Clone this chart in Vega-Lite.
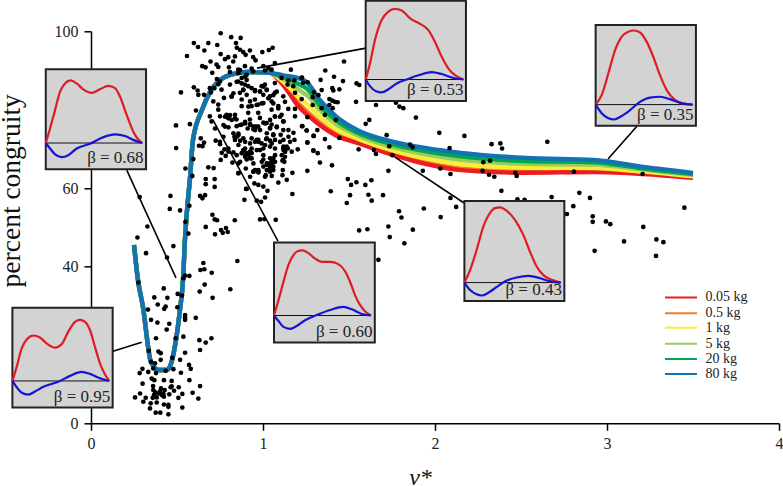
{"$schema":"https://vega.github.io/schema/vega-lite/v6.json","width":688,"height":392,"autosize":"none","padding":{"left":91,"top":31.3,"right":4,"bottom":62.7},"background":"white",
"config":{"view":{"stroke":null},"text":{"font":"Liberation Serif"}},
"datasets":{
"curves":[
{"x":0.25,"kg0_05":45.5,"kg0_5":45.5,"kg1":45.5,"kg5":45.5,"kg20":45.5,"kg80":45.5},
{"x":0.273,"kg0_05":36.6,"kg0_5":36.6,"kg1":36.6,"kg5":36.6,"kg20":36.6,"kg80":36.6},
{"x":0.302,"kg0_05":29.7,"kg0_5":29.7,"kg1":29.7,"kg5":29.7,"kg20":29.7,"kg80":29.7},
{"x":0.349,"kg0_05":15.6,"kg0_5":15.6,"kg1":15.6,"kg5":15.6,"kg20":15.6,"kg80":15.6},
{"x":0.395,"kg0_05":13.6,"kg0_5":13.6,"kg1":13.6,"kg5":13.6,"kg20":13.6,"kg80":13.6},
{"x":0.442,"kg0_05":13.6,"kg0_5":13.6,"kg1":13.6,"kg5":13.6,"kg20":13.6,"kg80":13.6},
{"x":0.494,"kg0_05":21.2,"kg0_5":21.2,"kg1":21.2,"kg5":21.2,"kg20":21.2,"kg80":21.2},
{"x":0.517,"kg0_05":28.9,"kg0_5":28.9,"kg1":28.9,"kg5":28.9,"kg20":28.9,"kg80":28.9},
{"x":0.535,"kg0_05":36.6,"kg0_5":36.6,"kg1":36.6,"kg5":36.6,"kg20":36.6,"kg80":36.6},
{"x":0.547,"kg0_05":47.5,"kg0_5":47.5,"kg1":47.5,"kg5":47.5,"kg20":47.5,"kg80":47.5},
{"x":0.576,"kg0_05":62.8,"kg0_5":62.8,"kg1":62.8,"kg5":62.8,"kg20":62.8,"kg80":62.8},
{"x":0.593,"kg0_05":72.3,"kg0_5":72.3,"kg1":72.3,"kg5":72.3,"kg20":72.3,"kg80":72.3},
{"x":0.645,"kg0_05":79.9,"kg0_5":79.9,"kg1":79.9,"kg5":79.9,"kg20":79.9,"kg80":79.9},
{"x":0.692,"kg0_05":84.5,"kg0_5":84.5,"kg1":84.5,"kg5":84.5,"kg20":84.5,"kg80":84.5},
{"x":0.75,"kg0_05":87.6,"kg0_5":87.6,"kg1":87.6,"kg5":87.6,"kg20":87.6,"kg80":87.6},
{"x":0.808,"kg0_05":88.9,"kg0_5":88.9,"kg1":88.9,"kg5":88.9,"kg20":88.9,"kg80":88.9},
{"x":0.907,"kg0_05":89.6,"kg0_5":89.6,"kg1":89.6,"kg5":89.6,"kg20":89.6,"kg80":89.6},
{"x":1.04,"kg0_05":89.4,"kg0_5":89.4,"kg1":89.4,"kg5":89.4,"kg20":89.4,"kg80":89.4},
{"x":1.08,"kg0_05":88.1,"kg0_5":88.2,"kg1":88.4,"kg5":88.7,"kg20":88.9,"kg80":89.1},
{"x":1.14,"kg0_05":85.0,"kg0_5":85.4,"kg1":86.2,"kg5":87.2,"kg20":87.9,"kg80":88.6},
{"x":1.2,"kg0_05":81.2,"kg0_5":81.9,"kg1":83.5,"kg5":85.3,"kg20":86.7,"kg80":88.1},
{"x":1.26,"kg0_05":78.6,"kg0_5":79.4,"kg1":81.3,"kg5":83.5,"kg20":85.2,"kg80":86.8},
{"x":1.33,"kg0_05":76.1,"kg0_5":76.7,"kg1":78.2,"kg5":79.9,"kg20":81.2,"kg80":82.5},
{"x":1.43,"kg0_05":73.3,"kg0_5":73.8,"kg1":74.9,"kg5":76.2,"kg20":77.1,"kg80":78.1},
{"x":1.55,"kg0_05":71.5,"kg0_5":71.8,"kg1":72.6,"kg5":73.5,"kg20":74.1,"kg80":74.8},
{"x":1.76,"kg0_05":68.4,"kg0_5":68.7,"kg1":69.5,"kg5":70.4,"kg20":71.1,"kg80":71.8},
{"x":1.95,"kg0_05":66.1,"kg0_5":66.5,"kg1":67.5,"kg5":68.6,"kg20":69.4,"kg80":70.2},
{"x":2.15,"kg0_05":64.6,"kg0_5":65.0,"kg1":66.1,"kg5":67.2,"kg20":68.1,"kg80":69.0},
{"x":2.53,"kg0_05":63.9,"kg0_5":64.3,"kg1":65.2,"kg5":66.2,"kg20":66.9,"kg80":67.7},
{"x":2.92,"kg0_05":64.1,"kg0_5":64.4,"kg1":65.1,"kg5":66.0,"kg20":66.6,"kg80":67.2},
{"x":3.21,"kg0_05":63.6,"kg0_5":63.8,"kg1":64.2,"kg5":64.7,"kg20":65.0,"kg80":65.4},
{"x":3.5,"kg0_05":62.6,"kg0_5":62.7,"kg1":63.0,"kg5":63.4,"kg20":63.6,"kg80":63.9}
],
"dots":[
{"x":0.275,"y":35.9},{"x":0.423,"y":34.4},{"x":0.661,"y":35.4},{"x":0.632,"y":33.6},{"x":0.81,"y":34.2},{"x":0.368,"y":32.1},{"x":0.444,"y":32},{"x":0.504,"y":33},{"x":0.529,"y":32.6},{"x":0.707,"y":32},{"x":0.388,"y":30.3},{"x":0.502,"y":29.6},{"x":0.434,"y":29.8},{"x":0.426,"y":29.2},{"x":0.331,"y":29},{"x":0.547,"y":27.6},{"x":0.547,"y":27},{"x":0.547,"y":26.4},{"x":0.609,"y":26.9},{"x":0.349,"y":26.4},{"x":0.386,"y":25.7},{"x":0.455,"y":25.4},{"x":0.44,"y":23.9},{"x":0.537,"y":22.1},{"x":0.378,"y":21.7},{"x":0.492,"y":21.7},{"x":0.63,"y":21.2},{"x":0.667,"y":20.6},{"x":0.7,"y":21.7},{"x":0.634,"y":18.7},{"x":0.337,"y":18.5},{"x":0.392,"y":18.3},{"x":0.405,"y":17.9},{"x":0.547,"y":18},{"x":0.473,"y":16.7},{"x":0.518,"y":16.2},{"x":0.405,"y":16.2},{"x":0.349,"y":15.7},{"x":0.372,"y":15.3},{"x":0.57,"y":14.9},{"x":0.58,"y":13.9},{"x":0.299,"y":13.9},{"x":0.362,"y":14},{"x":0.283,"y":12.8},{"x":0.333,"y":13.1},{"x":0.378,"y":12.8},{"x":0.479,"y":13.8},{"x":0.523,"y":12.9},{"x":0.434,"y":13.4},{"x":0.353,"y":11.4},{"x":0.368,"y":11},{"x":0.424,"y":11},{"x":0.469,"y":10.8},{"x":0.572,"y":11},{"x":0.3,"y":10.1},{"x":0.469,"y":9.4},{"x":0.634,"y":9.5},{"x":0.361,"y":9.5},{"x":0.407,"y":8.9},{"x":0.362,"y":8.5},{"x":0.428,"y":8.5},{"x":0.463,"y":9.2},{"x":0.51,"y":9.2},{"x":0.483,"y":8.3},{"x":0.374,"y":7.9},{"x":0.421,"y":7.6},{"x":0.392,"y":7.6},{"x":0.591,"y":7.8},{"x":0.455,"y":7.4},{"x":0.531,"y":7.5},{"x":0.256,"y":6.6},{"x":0.285,"y":7.6},{"x":0.318,"y":6.5},{"x":0.359,"y":6.5},{"x":0.382,"y":6.6},{"x":0.424,"y":6.8},{"x":0.508,"y":6.5},{"x":0.624,"y":6.3},{"x":0.304,"y":5.5},{"x":0.347,"y":5.1},{"x":0.382,"y":5.3},{"x":0.424,"y":4.8},{"x":0.45,"y":4.7},{"x":0.343,"y":3.8},{"x":0.45,"y":4.2},{"x":0.531,"y":4},{"x":0.376,"y":2.7},{"x":0.403,"y":2.7},{"x":0.45,"y":2.3},{"x":0.401,"y":8.1},{"x":0.411,"y":7.2},{"x":0.366,"y":7.2},
{"x":0.495,"y":70.2},{"x":0.595,"y":67.4},{"x":0.549,"y":65},{"x":0.589,"y":63.1},{"x":0.682,"y":65.3},{"x":0.713,"y":65.1},{"x":0.667,"y":62.3},{"x":0.719,"y":62.3},{"x":0.667,"y":61},{"x":0.719,"y":60.3},{"x":0.462,"y":58},{"x":0.634,"y":58},{"x":0.663,"y":58.2},{"x":0.648,"y":57.4},{"x":0.458,"y":54.7},{"x":0.518,"y":54.3},{"x":0.572,"y":55.5},{"x":0.549,"y":51.4},{"x":0.706,"y":53.2},{"x":0.719,"y":52},{"x":0.733,"y":51.8},{"x":0.836,"y":51.8},{"x":0.328,"y":50.2},{"x":0.667,"y":50.1},{"x":0.27,"y":47.4},{"x":0.756,"y":49.3},{"x":0.785,"y":49.8},{"x":0.766,"y":48.6},{"x":0.795,"y":48.8},{"x":0.721,"y":48.2},{"x":0.566,"y":48.4},{"x":0.479,"y":45.2},{"x":0.32,"y":43.4},{"x":0.442,"y":42.3},{"x":0.851,"y":41.4},{"x":0.653,"y":40.9},{"x":0.636,"y":39.1},{"x":0.659,"y":39.3},{"x":0.702,"y":38.4},{"x":0.572,"y":37.6},{"x":0.547,"y":37.7},{"x":0.537,"y":37},{"x":0.283,"y":57.7},{"x":0.892,"y":57},{"x":0.901,"y":59.8},{"x":0.857,"y":63.8},
{"x":0.754,"y":99.5},{"x":0.815,"y":98.5},{"x":0.87,"y":98.3},{"x":0.843,"y":97},{"x":0.598,"y":97},{"x":0.622,"y":96},{"x":0.682,"y":97},{"x":0.734,"y":96.5},{"x":0.659,"y":95.1},{"x":0.558,"y":93.7},{"x":0.754,"y":94.2},{"x":0.848,"y":95.8},{"x":0.866,"y":95.3},{"x":0.885,"y":94.7},{"x":0.899,"y":94},{"x":0.924,"y":95.1},{"x":0.996,"y":94.7},{"x":1.034,"y":95.2},{"x":1.056,"y":95.8},{"x":0.837,"y":93.6},{"x":0.798,"y":93.4},{"x":0.779,"y":92.9},{"x":0.943,"y":93.4},{"x":0.957,"y":92.6},{"x":0.695,"y":92.3},{"x":0.827,"y":92.3},{"x":0.73,"y":91.5},{"x":0.74,"y":90.9},{"x":0.647,"y":91.1},{"x":0.666,"y":90.8},{"x":0.802,"y":90.8},{"x":0.895,"y":91.1},{"x":0.934,"y":90.5},{"x":1.002,"y":91.1},{"x":1.069,"y":91.9},{"x":1.031,"y":90.6},{"x":1.05,"y":90.2},{"x":1.162,"y":90.2},{"x":0.705,"y":89.4},{"x":0.808,"y":89.6},{"x":0.856,"y":90.2},{"x":0.943,"y":89.8},{"x":1.011,"y":90},{"x":0.732,"y":87.8},{"x":0.74,"y":86.5},{"x":0.598,"y":85.7},{"x":0.62,"y":84.9},{"x":0.624,"y":83.8},{"x":0.523,"y":84.4},{"x":0.657,"y":83.8},{"x":0.691,"y":85.5},{"x":0.697,"y":84.4},{"x":0.717,"y":85.5},{"x":0.75,"y":87.2},{"x":0.759,"y":85.1},{"x":0.773,"y":83},{"x":0.808,"y":86.4},{"x":0.817,"y":83.4},{"x":0.856,"y":87.2},{"x":0.876,"y":88.1},{"x":0.905,"y":88.9},{"x":0.895,"y":86.4},{"x":0.885,"y":85.1},{"x":0.866,"y":84.3},{"x":0.876,"y":82.6},{"x":0.914,"y":86},{"x":0.905,"y":83.8},{"x":0.934,"y":85.5},{"x":0.953,"y":84.7},{"x":0.953,"y":82.6},{"x":0.992,"y":86},{"x":1.011,"y":86.4},{"x":0.982,"y":84.7},{"x":1.002,"y":83.8},{"x":1.021,"y":85.1},{"x":1.04,"y":83.4},{"x":1.069,"y":84.3},{"x":1.069,"y":86.8},{"x":1.108,"y":88.1},{"x":1.147,"y":87.5},{"x":1.182,"y":87.5},{"x":1.224,"y":88.1},{"x":1.143,"y":86.4},{"x":1.176,"y":86},{"x":1.186,"y":84.3},{"x":1.118,"y":83.4},{"x":1.05,"y":82.1},{"x":0.972,"y":81.3},{"x":1.002,"y":81.7},{"x":0.934,"y":80.9},{"x":0.711,"y":82.1},{"x":0.74,"y":81.3},{"x":0.61,"y":79.8},{"x":0.691,"y":78.3},{"x":0.74,"y":80},{"x":0.788,"y":78.7},{"x":0.837,"y":78.7},{"x":0.876,"y":80.9},{"x":0.914,"y":79.2},{"x":0.972,"y":79.2},{"x":1.05,"y":80},{"x":1.089,"y":80.9},{"x":1.147,"y":80.2},{"x":1.186,"y":80.2},{"x":1.108,"y":78.7},{"x":1.069,"y":78.3},{"x":1.021,"y":76.6},{"x":0.982,"y":77.9},{"x":0.924,"y":77.5},{"x":0.846,"y":77.5},{"x":0.798,"y":77.9},{"x":0.75,"y":78.3},{"x":0.701,"y":77},{"x":0.575,"y":76.3},{"x":0.494,"y":76},{"x":1.186,"y":78.3},{"x":0.779,"y":75.7},{"x":0.876,"y":76.2},{"x":0.953,"y":75.7},{"x":1.05,"y":76.2},{"x":1.118,"y":77},
{"x":0.721,"y":75.2},{"x":0.77,"y":76.1},{"x":0.799,"y":75.5},{"x":0.847,"y":75.8},{"x":0.896,"y":76.5},{"x":0.925,"y":76.1},{"x":0.964,"y":75.7},{"x":1.002,"y":76.7},{"x":1.041,"y":75.2},{"x":1.08,"y":75.5},{"x":1.119,"y":77},{"x":1.148,"y":74.8},{"x":1.177,"y":74.1},{"x":1.229,"y":75.8},{"x":1.254,"y":74.7},{"x":1.293,"y":73.3},{"x":1.258,"y":71.6},{"x":1.293,"y":69.5},{"x":1.258,"y":64.4},{"x":1.171,"y":63.9},{"x":1.171,"y":58.5},{"x":1.202,"y":69.9},{"x":1.183,"y":72.3},{"x":1.148,"y":73.1},{"x":1.103,"y":73.6},{"x":1.06,"y":73.5},{"x":1.018,"y":72.5},{"x":0.973,"y":71.8},{"x":0.934,"y":72.7},{"x":0.896,"y":71.8},{"x":0.857,"y":73.5},{"x":0.834,"y":73.1},{"x":0.725,"y":72.1},{"x":0.75,"y":71.2},{"x":0.638,"y":72.7},{"x":0.657,"y":71.6},{"x":0.628,"y":70.8},{"x":0.648,"y":70.7},{"x":0.76,"y":69},{"x":0.754,"y":67.2},{"x":0.799,"y":70.1},{"x":0.828,"y":69.1},{"x":0.867,"y":66.7},{"x":0.822,"y":66.5},{"x":0.857,"y":63.8},{"x":0.9,"y":65},{"x":0.886,"y":69.5},{"x":0.915,"y":68.4},{"x":0.905,"y":67.3},{"x":0.944,"y":66.3},{"x":0.944,"y":64.2},{"x":0.925,"y":62.9},{"x":0.954,"y":64.6},{"x":0.973,"y":64},{"x":1.002,"y":67.3},{"x":1.022,"y":65.9},{"x":1.041,"y":67.6},{"x":1.07,"y":68.4},{"x":1.012,"y":71},{"x":1.002,"y":70.1},{"x":1.051,"y":71.4},{"x":1.119,"y":70.6},{"x":1.128,"y":69.3},{"x":1.167,"y":69.3},{"x":1.113,"y":67},{"x":1.051,"y":66.3},{"x":1.041,"y":64.6},{"x":1.016,"y":63.3},{"x":1.051,"y":63.1},{"x":1.115,"y":64.6},{"x":1.113,"y":63.3},{"x":1.089,"y":61.4},{"x":1.138,"y":62.1},{"x":0.95,"y":61.2},{"x":0.973,"y":60.8},{"x":1.002,"y":60.4},{"x":1.026,"y":59.3},{"x":1.012,"y":57.6},{"x":0.905,"y":59.8},{"x":0.964,"y":56.8},{"x":0.989,"y":56.5},{"x":0.983,"y":52},{"x":1.008,"y":52.1},{"x":1.074,"y":51.9},
{"x":1.041,"y":66.3},{"x":1.06,"y":65.5},{"x":1.041,"y":65.5},{"x":1.06,"y":64.6},{"x":1.022,"y":64.6},{"x":1.07,"y":66.7},{"x":1.119,"y":69.7},{"x":1.128,"y":68},{"x":1.124,"y":66.7},{"x":1.144,"y":70.1},{"x":0.876,"y":68.9},{"x":0.896,"y":68},{"x":0.847,"y":68.4},{"x":0.925,"y":67.6},{"x":0.934,"y":68.9},{"x":0.983,"y":69.7},{"x":0.993,"y":66.7},{"x":0.973,"y":64.6},{"x":0.857,"y":66.3},{"x":0.799,"y":69.3},{"x":0.776,"y":69.9},{"x":0.783,"y":68.2},{"x":0.867,"y":76.1},{"x":0.911,"y":75.2},{"x":0.944,"y":75},{"x":0.983,"y":74.8},{"x":1.022,"y":74},{"x":0.847,"y":73.1},{"x":0.828,"y":74},{"x":0.867,"y":72.1},{"x":0.925,"y":71.4},{"x":0.954,"y":71.8},{"x":0.964,"y":72.3},{"x":1.041,"y":72.1},{"x":1.07,"y":72.3},{"x":1.099,"y":71.8},{"x":0.857,"y":71},{"x":0.896,"y":70.1},{"x":0.934,"y":70.1},{"x":0.964,"y":69.7},{"x":1.002,"y":68.4},{"x":1.07,"y":70.1},{"x":1.119,"y":72.3},{"x":1.157,"y":71.8},
{"x":1.041,"y":65.6},{"x":1.051,"y":66.7},{"x":1.041,"y":64.2},{"x":1.022,"y":66.3},{"x":1.06,"y":67.6},{"x":1.002,"y":65.5},{"x":0.973,"y":64.2},{"x":0.944,"y":64.2},{"x":1.012,"y":62.9},{"x":1.118,"y":70.1},{"x":1.128,"y":69.3},{"x":1.109,"y":68.4},{"x":1.138,"y":70.6},{"x":1.118,"y":67.2},{"x":0.905,"y":68.9},{"x":0.896,"y":68.2},{"x":0.925,"y":69.3},{"x":0.934,"y":67.6},{"x":0.886,"y":69.7},{"x":0.954,"y":74.8},{"x":0.973,"y":75.7},{"x":0.944,"y":75.7},{"x":0.925,"y":76.3},{"x":0.896,"y":76.9},{"x":0.808,"y":78.6},{"x":0.837,"y":77.8},{"x":0.799,"y":77.8},{"x":0.779,"y":78.2},{"x":0.818,"y":77.4},{"x":0.886,"y":85},{"x":0.876,"y":86.7},{"x":0.905,"y":87.6},{"x":0.896,"y":88.4},{"x":0.857,"y":89.3},{"x":0.867,"y":90.1},{"x":0.847,"y":87.1},{"x":0.828,"y":84.2},{"x":0.818,"y":83.3},{"x":1.002,"y":85.9},{"x":1.022,"y":85},{"x":0.983,"y":84.6},{"x":0.954,"y":85},{"x":1.08,"y":84.6},{"x":1.06,"y":83.7},{"x":1.031,"y":82.9},{"x":0.992,"y":81.6},{"x":0.963,"y":81.2},{"x":0.925,"y":82.1},{"x":0.915,"y":80.8},{"x":1.06,"y":81.6},{"x":1.089,"y":80.3},{"x":1.128,"y":82},{"x":1.099,"y":78.2},{"x":1.07,"y":78.2},{"x":1.041,"y":77.4},{"x":1.012,"y":76.5},{"x":1.041,"y":75.4},{"x":1.08,"y":75.7},{"x":1.118,"y":74.8},{"x":1.06,"y":73.7},{"x":1.022,"y":72.7},{"x":0.992,"y":71.4},{"x":1.041,"y":70.6},{"x":0.973,"y":72.3},{"x":0.886,"y":72.7},{"x":0.857,"y":73.9},{"x":0.837,"y":72.3},{"x":0.77,"y":73.1},{"x":0.75,"y":71.8},
{"x":1.471,"y":92.3},{"x":1.362,"y":90},{"x":1.413,"y":88.4},{"x":1.335,"y":87.6},{"x":1.465,"y":87.3},{"x":1.227,"y":88.2},{"x":1.234,"y":86.9},{"x":1.26,"y":87},{"x":1.544,"y":86.7},{"x":1.56,"y":86.3},{"x":1.403,"y":85.5},{"x":1.409,"y":84.9},{"x":1.341,"y":85},{"x":1.444,"y":85.2},{"x":1.296,"y":84.4},{"x":1.322,"y":83.7},{"x":1.289,"y":83.2},{"x":1.386,"y":82.7},{"x":1.403,"y":82.3},{"x":1.418,"y":82},{"x":1.434,"y":81.9},{"x":1.541,"y":82},{"x":1.225,"y":82.7},{"x":1.289,"y":81.2},{"x":1.386,"y":81.2},{"x":1.405,"y":80.4},{"x":1.341,"y":80.4},{"x":1.36,"y":78.7},{"x":1.258,"y":78.1},{"x":1.424,"y":77.4},{"x":1.618,"y":77.4},{"x":1.597,"y":76.4},{"x":1.889,"y":78},{"x":1.657,"y":81.2},{"x":1.773,"y":81.8},{"x":1.793,"y":80.8},{"x":1.816,"y":80.4},{"x":1.227,"y":75.8},{"x":1.254,"y":74.7},{"x":1.316,"y":74.8},{"x":1.296,"y":73.3},{"x":1.36,"y":72.5},{"x":1.444,"y":72.8},{"x":1.258,"y":71.7},{"x":1.386,"y":70.4},{"x":1.293,"y":69.6},{"x":1.318,"y":68.9},{"x":1.556,"y":69.9},{"x":1.645,"y":69.7},{"x":1.657,"y":68.7},{"x":1.734,"y":70.7},{"x":1.719,"y":73.5},{"x":1.855,"y":71.1},{"x":1.87,"y":70.4},{"x":1.752,"y":68.4},{"x":1.331,"y":66.5},{"x":1.401,"y":65.8},
{"x":1.394,"y":59.2},{"x":1.493,"y":62.3},{"x":1.512,"y":60.8},{"x":1.543,"y":61.5},{"x":1.595,"y":60.8},{"x":1.63,"y":62},{"x":1.506,"y":58.2},{"x":1.613,"y":58.3},{"x":1.698,"y":58.2},{"x":1.487,"y":56.2},{"x":1.632,"y":56.8},{"x":1.729,"y":64.4},{"x":1.929,"y":64.4},{"x":2.031,"y":65},{"x":2.09,"y":63.6},{"x":1.791,"y":54.1},{"x":1.805,"y":52.5},{"x":1.935,"y":54.8},{"x":2.033,"y":52.6},{"x":2.09,"y":57.5},{"x":2.123,"y":55.2},{"x":1.559,"y":49.2},{"x":1.607,"y":49.5},{"x":1.729,"y":50.2},{"x":1.737,"y":47.5},{"x":1.871,"y":49.4},{"x":1.822,"y":45.9},{"x":1.671,"y":41.7},
{"x":2.025,"y":74.1},{"x":2.171,"y":73.3},{"x":2.085,"y":70.2},{"x":2.329,"y":71.2},{"x":2.38,"y":71.4},{"x":2.39,"y":70.1},{"x":2.653,"y":71.8},{"x":2.281,"y":66.6},{"x":2.32,"y":67},{"x":2.277,"y":64.4},{"x":2.314,"y":63.4},{"x":2.345,"y":62.9},{"x":2.467,"y":63.9},{"x":2.475,"y":63.1},{"x":2.808,"y":64.2},{"x":3.207,"y":63.6},{"x":2.386,"y":59.3},{"x":2.479,"y":57.1},{"x":2.521,"y":57},{"x":2.678,"y":57.7},{"x":2.839,"y":58.8},{"x":2.901,"y":57.5},{"x":2.804,"y":55.4},{"x":2.767,"y":53.4},{"x":2.917,"y":52.8},{"x":2.917,"y":51.4},{"x":2.994,"y":51.5},{"x":3.019,"y":50.8},{"x":3.211,"y":50.1},{"x":3.45,"y":55},{"x":3.287,"y":46.9},{"x":3.328,"y":46.2},{"x":3.285,"y":42.7},{"x":3.099,"y":46.4},{"x":2.928,"y":44}
],
"leaders":[
{"x":0.128,"y":18.4,"x2":0.295,"y2":20.7},
{"x":0.208,"y":64.6,"x2":0.494,"y2":37.1},
{"x":0.709,"y":77.4,"x2":1.087,"y2":46.5},
{"x":0.965,"y":90.6,"x2":1.599,"y2":95.7},
{"x":1.767,"y":67.9,"x2":2.169,"y2":56.2},
{"x":3.006,"y":67.4,"x2":3.174,"y2":75.8}
],
"boxes":[
{"x":-0.263,"x2":0.32,"y":90.3,"y2":64.8},
{"x":-0.457,"x2":0.126,"y":29.5,"y2":4.0},
{"x":1.064,"x2":1.65,"y":46.1,"y2":20.6},
{"x":2.171,"x2":2.752,"y":56.7,"y2":31.2},
{"x":1.597,"x2":2.18,"y":107.8,"y2":82.2},
{"x":2.934,"x2":3.517,"y":101.6,"y2":75.9}
],
"baselines":[
{"x":-0.263,"x2":0.298,"y":71.5},
{"x":-0.457,"x2":0.106,"y":10.8},
{"x":1.064,"x2":1.628,"y":27.5},
{"x":2.171,"x2":2.731,"y":35.9},
{"x":1.597,"x2":2.165,"y":87.7},
{"x":2.934,"x2":3.498,"y":81.3}
],
"labels":[
{"x":0.306,"y":66.3,"label":"β = 0.68"},
{"x":0.112,"y":5.5,"label":"β = 0.95"},
{"x":1.636,"y":22.1,"label":"β = 0.60"},
{"x":2.738,"y":32.7,"label":"β = 0.43"},
{"x":2.166,"y":83.7,"label":"β = 0.53"},
{"x":3.503,"y":77.4,"label":"β = 0.35"}
],
"red":[
{"inset":"0.68","x":-0.263,"y":71.5},{"inset":"0.68","x":-0.238,"y":75.2},{"inset":"0.68","x":-0.209,"y":79.9},{"inset":"0.68","x":-0.18,"y":84.6},{"inset":"0.68","x":-0.151,"y":86.7},{"inset":"0.68","x":-0.118,"y":87.5},{"inset":"0.68","x":-0.083,"y":86.7},{"inset":"0.68","x":-0.045,"y":85.2},{"inset":"0.68","x":0.004,"y":84.3},{"inset":"0.68","x":0.052,"y":85.2},{"inset":"0.68","x":0.101,"y":86.1},{"inset":"0.68","x":0.14,"y":85.5},{"inset":"0.68","x":0.169,"y":83.3},{"inset":"0.68","x":0.208,"y":78.6},{"inset":"0.68","x":0.246,"y":74.4},{"inset":"0.68","x":0.275,"y":72.4},{"inset":"0.68","x":0.298,"y":71.5},
{"inset":"0.95","x":-0.457,"y":10.8},{"inset":"0.95","x":-0.432,"y":14.4},{"inset":"0.95","x":-0.403,"y":19.1},{"inset":"0.95","x":-0.374,"y":21.4},{"inset":"0.95","x":-0.335,"y":22.4},{"inset":"0.95","x":-0.297,"y":21.9},{"inset":"0.95","x":-0.258,"y":20.4},{"inset":"0.95","x":-0.209,"y":19.3},{"inset":"0.95","x":-0.17,"y":20.2},{"inset":"0.95","x":-0.132,"y":23.4},{"inset":"0.95","x":-0.093,"y":25.9},{"inset":"0.95","x":-0.064,"y":26.4},{"inset":"0.95","x":-0.035,"y":25.9},{"inset":"0.95","x":-0.006,"y":23.8},{"inset":"0.95","x":0.023,"y":19.5},{"inset":"0.95","x":0.052,"y":15.3},{"inset":"0.95","x":0.081,"y":12.5},{"inset":"0.95","x":0.106,"y":10.8},
{"inset":"0.60","x":1.064,"y":27.5},{"inset":"0.60","x":1.09,"y":31.4},{"inset":"0.60","x":1.119,"y":36.1},{"inset":"0.60","x":1.148,"y":40.4},{"inset":"0.60","x":1.177,"y":42.9},{"inset":"0.60","x":1.2,"y":43.9},{"inset":"0.60","x":1.229,"y":44.1},{"inset":"0.60","x":1.264,"y":43.4},{"inset":"0.60","x":1.303,"y":42},{"inset":"0.60","x":1.342,"y":41.2},{"inset":"0.60","x":1.39,"y":41.2},{"inset":"0.60","x":1.438,"y":40.6},{"inset":"0.60","x":1.477,"y":38.8},{"inset":"0.60","x":1.506,"y":36.1},{"inset":"0.60","x":1.535,"y":32.7},{"inset":"0.60","x":1.564,"y":30.2},{"inset":"0.60","x":1.593,"y":28.6},{"inset":"0.60","x":1.628,"y":27.5},
{"inset":"0.43","x":2.171,"y":35.9},{"inset":"0.43","x":2.204,"y":39.1},{"inset":"0.43","x":2.242,"y":44.2},{"inset":"0.43","x":2.281,"y":50.2},{"inset":"0.43","x":2.32,"y":53.7},{"inset":"0.43","x":2.349,"y":54.9},{"inset":"0.43","x":2.378,"y":55.1},{"inset":"0.43","x":2.417,"y":54.2},{"inset":"0.43","x":2.465,"y":51.9},{"inset":"0.43","x":2.514,"y":48},{"inset":"0.43","x":2.552,"y":43.8},{"inset":"0.43","x":2.591,"y":40},{"inset":"0.43","x":2.63,"y":37.8},{"inset":"0.43","x":2.678,"y":36.6},{"inset":"0.43","x":2.731,"y":35.9},
{"inset":"0.53","x":1.597,"y":87.7},{"inset":"0.53","x":1.622,"y":91.8},{"inset":"0.53","x":1.651,"y":97.8},{"inset":"0.53","x":1.69,"y":102.9},{"inset":"0.53","x":1.729,"y":105},{"inset":"0.53","x":1.767,"y":105.7},{"inset":"0.53","x":1.806,"y":105.3},{"inset":"0.53","x":1.855,"y":103.3},{"inset":"0.53","x":1.913,"y":101.9},{"inset":"0.53","x":1.961,"y":100.3},{"inset":"0.53","x":2,"y":97.3},{"inset":"0.53","x":2.039,"y":93.5},{"inset":"0.53","x":2.078,"y":90.5},{"inset":"0.53","x":2.116,"y":88.8},{"inset":"0.53","x":2.165,"y":87.7},
{"inset":"0.35","x":2.934,"y":81.3},{"inset":"0.35","x":2.969,"y":83.7},{"inset":"0.35","x":3.008,"y":89.3},{"inset":"0.35","x":3.047,"y":95.2},{"inset":"0.35","x":3.085,"y":98.6},{"inset":"0.35","x":3.124,"y":99.9},{"inset":"0.35","x":3.157,"y":100.2},{"inset":"0.35","x":3.192,"y":99.7},{"inset":"0.35","x":3.231,"y":97.3},{"inset":"0.35","x":3.269,"y":93.5},{"inset":"0.35","x":3.308,"y":88.8},{"inset":"0.35","x":3.347,"y":85},{"inset":"0.35","x":3.395,"y":82.5},{"inset":"0.35","x":3.444,"y":81.6},{"inset":"0.35","x":3.498,"y":81.3}
],
"blue":[
{"inset":"0.68","x":-0.263,"y":71.5},{"inset":"0.68","x":-0.238,"y":70.1},{"inset":"0.68","x":-0.209,"y":68.6},{"inset":"0.68","x":-0.17,"y":67.9},{"inset":"0.68","x":-0.132,"y":68.4},{"inset":"0.68","x":-0.083,"y":70.1},{"inset":"0.68","x":-0.006,"y":71.3},{"inset":"0.68","x":0.072,"y":73},{"inset":"0.68","x":0.14,"y":73.7},{"inset":"0.68","x":0.198,"y":73.3},{"inset":"0.68","x":0.246,"y":72.3},{"inset":"0.68","x":0.298,"y":71.5},
{"inset":"0.95","x":-0.457,"y":10.8},{"inset":"0.95","x":-0.432,"y":9.2},{"inset":"0.95","x":-0.403,"y":7.8},{"inset":"0.95","x":-0.364,"y":7.3},{"inset":"0.95","x":-0.326,"y":8.1},{"inset":"0.95","x":-0.277,"y":9.3},{"inset":"0.95","x":-0.19,"y":10.6},{"inset":"0.95","x":-0.122,"y":12.1},{"inset":"0.95","x":-0.054,"y":13.1},{"inset":"0.95","x":-0.006,"y":12.6},{"inset":"0.95","x":0.052,"y":11.5},{"inset":"0.95","x":0.106,"y":10.8},
{"inset":"0.60","x":1.064,"y":27.5},{"inset":"0.60","x":1.09,"y":26.1},{"inset":"0.60","x":1.119,"y":24.6},{"inset":"0.60","x":1.157,"y":24.1},{"inset":"0.60","x":1.196,"y":24.8},{"inset":"0.60","x":1.245,"y":26.3},{"inset":"0.60","x":1.312,"y":27.6},{"inset":"0.60","x":1.39,"y":28.9},{"inset":"0.60","x":1.467,"y":29.7},{"inset":"0.60","x":1.516,"y":29.1},{"inset":"0.60","x":1.574,"y":27.9},{"inset":"0.60","x":1.628,"y":27.5},
{"inset":"0.43","x":2.171,"y":35.9},{"inset":"0.43","x":2.204,"y":34},{"inset":"0.43","x":2.242,"y":32.9},{"inset":"0.43","x":2.271,"y":32.6},{"inset":"0.43","x":2.31,"y":33.3},{"inset":"0.43","x":2.359,"y":34.8},{"inset":"0.43","x":2.417,"y":36.4},{"inset":"0.43","x":2.475,"y":37.2},{"inset":"0.43","x":2.543,"y":37.6},{"inset":"0.43","x":2.611,"y":37},{"inset":"0.43","x":2.669,"y":36.2},{"inset":"0.43","x":2.731,"y":35.9},
{"inset":"0.53","x":1.597,"y":87.7},{"inset":"0.53","x":1.622,"y":86},{"inset":"0.53","x":1.657,"y":84.7},{"inset":"0.53","x":1.69,"y":84.4},{"inset":"0.53","x":1.729,"y":85.2},{"inset":"0.53","x":1.777,"y":86.7},{"inset":"0.53","x":1.835,"y":87.7},{"inset":"0.53","x":1.913,"y":88.9},{"inset":"0.53","x":1.981,"y":89.6},{"inset":"0.53","x":2.039,"y":89.1},{"inset":"0.53","x":2.107,"y":88.1},{"inset":"0.53","x":2.165,"y":87.7},
{"inset":"0.35","x":2.934,"y":81.3},{"inset":"0.35","x":2.969,"y":79.1},{"inset":"0.35","x":3.008,"y":77.8},{"inset":"0.35","x":3.041,"y":77.5},{"inset":"0.35","x":3.085,"y":78.4},{"inset":"0.35","x":3.134,"y":79.9},{"inset":"0.35","x":3.192,"y":82},{"inset":"0.35","x":3.25,"y":83.1},{"inset":"0.35","x":3.308,"y":83.3},{"inset":"0.35","x":3.366,"y":82.7},{"inset":"0.35","x":3.434,"y":81.6},{"inset":"0.35","x":3.498,"y":81.3}
],
"legendLines":[
{"mass":"kg0_05","x":3.337,"x2":3.523,"y":32.1},
{"mass":"kg0_5","x":3.337,"x2":3.523,"y":28.1},
{"mass":"kg1","x":3.337,"x2":3.523,"y":24.4},
{"mass":"kg5","x":3.337,"x2":3.523,"y":20.3},
{"mass":"kg20","x":3.337,"x2":3.523,"y":16.4},
{"mass":"kg80","x":3.337,"x2":3.523,"y":12.6}
],
"legendLabels":[
{"label":"0.05 kg","x":3.573,"y":32.1},
{"label":"0.5 kg","x":3.573,"y":28.1},
{"label":"1 kg","x":3.573,"y":24.4},
{"label":"5 kg","x":3.573,"y":20.3},
{"label":"20 kg","x":3.573,"y":16.4},
{"label":"80 kg","x":3.573,"y":12.6}
]
},
"encoding":{
"x":{"field":"x","type":"quantitative","scale":{"domain":[0,4],"nice":false},"axis":{"values":[0,1,2,3,4],"format":"d","grid":false,"labelFlush":false,"title":"v*","titleFont":"Liberation Serif","titleFontSize":24,"titleFontStyle":"italic","titleFontWeight":"normal","titleColor":"#111","titleX":329,"titleY":61,"titleAlign":"center","titleBaseline":"alphabetic","labelFont":"Liberation Serif","labelFontSize":16,"labelColor":"#222","labelPadding":5,"tickColor":"#000","tickWidth":1.5,"tickSize":7,"domainColor":"#000","domainWidth":1.5}},
"y":{"field":"y","type":"quantitative","scale":{"domain":[0,100],"nice":false},"axis":{"values":[0,20,40,60,80,100],"grid":false,"labelFlush":false,"title":"percent congruity","titleFont":"Liberation Serif","titleFontSize":27.5,"titleFontWeight":"normal","titleColor":"#111","titleX":-71.5,"titleY":159,"titleAlign":"center","titleBaseline":"alphabetic","labelFont":"Liberation Serif","labelFontSize":16,"labelColor":"#222","labelPadding":6,"tickColor":"#000","tickWidth":1.5,"tickSize":7,"domainColor":"#000","domainWidth":1.5}}
},
"layer":[
{"data":{"name":"curves"},"transform":[{"fold":["kg0_5","kg0_05","kg1","kg5","kg20","kg80"],"as":["mass","y"]}],"mark":{"type":"line","strokeWidth":4.4,"interpolate":"monotone"},"encoding":{"color":{"field":"mass","type":"nominal","scale":{"domain":["kg0_05","kg0_5","kg1","kg5","kg20","kg80"],"range":["#ed1c24","#f47b20","#f7ee3a","#9acb5c","#00a651","#1272b4"]},"legend":null}}},
{"data":{"name":"dots"},"mark":{"type":"circle","size":22,"color":"#000","opacity":1}},
{"data":{"name":"leaders"},"mark":{"type":"rule","color":"#000","strokeWidth":1.6},"encoding":{"x2":{"field":"x2"},"y2":{"field":"y2"}}},
{"data":{"name":"boxes"},"mark":{"type":"rect","fill":"#d3d3d3","stroke":"#222","strokeWidth":2},"encoding":{"x2":{"field":"x2"},"y2":{"field":"y2"}}},
{"data":{"name":"baselines"},"mark":{"type":"rule","color":"#111","strokeWidth":1},"encoding":{"x2":{"field":"x2"}}},
{"data":{"name":"red"},"mark":{"type":"line","color":"#de1c24","strokeWidth":2.2,"interpolate":"monotone"},"encoding":{"detail":{"field":"inset"}}},
{"data":{"name":"blue"},"mark":{"type":"line","color":"#1414d2","strokeWidth":2.2,"interpolate":"monotone"},"encoding":{"detail":{"field":"inset"}}},
{"data":{"name":"labels"},"mark":{"type":"text","align":"right","baseline":"alphabetic","fontSize":17,"font":"Liberation Serif","color":"#222"},"encoding":{"text":{"field":"label"}}},
{"data":{"name":"legendLines"},"mark":{"type":"rule","strokeWidth":2},"encoding":{"x2":{"field":"x2"},"color":{"field":"mass","type":"nominal","legend":null}}},
{"data":{"name":"legendLabels"},"mark":{"type":"text","align":"left","baseline":"middle","fontSize":14,"font":"Liberation Serif","color":"#222"},"encoding":{"text":{"field":"label"}}}
]}
